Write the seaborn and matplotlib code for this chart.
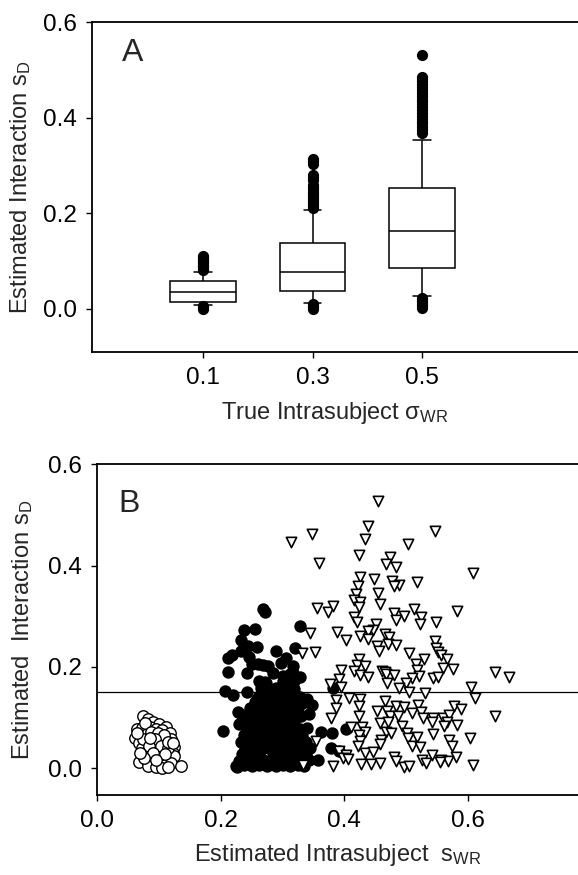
import numpy as np
import pandas as pd
import matplotlib
matplotlib.use("Agg")
import matplotlib.pyplot as plt
import seaborn as sns

# ---------------- Panel A data: box summaries (whisker low, Q1, median, Q3, whisker high)
sigma_levels = [0.1, 0.3, 0.5]
box_s01 = [0.008, 0.015, 0.035, 0.059, 0.077]
box_s03 = [0.013, 0.038, 0.077, 0.139, 0.208]
box_s05 = [0.027, 0.085, 0.164, 0.254, 0.353]

out_s01 = [0.001, 0.004, 0.006, 0.081, 0.084, 0.087, 0.090, 0.093, 0.096, 0.099,
           0.102, 0.105, 0.108, 0.111]
out_s03 = [0.001, 0.004, 0.007, 0.010, 0.212, 0.216, 0.220, 0.224, 0.228, 0.232,
           0.236, 0.240, 0.245, 0.250, 0.255, 0.259, 0.270, 0.275, 0.280, 0.303,
           0.309, 0.314]
out_s05 = [0.002, 0.006, 0.010, 0.014, 0.018, 0.022, 0.368, 0.374, 0.380, 0.386,
           0.392, 0.398, 0.404, 0.410, 0.416, 0.422, 0.428, 0.434, 0.440, 0.446,
           0.452, 0.458, 0.464, 0.470, 0.476, 0.482, 0.486, 0.531]

# ---------------- Panel B data
open_circ_x = [0.075, 0.082, 0.090, 0.100, 0.112, 0.065, 0.072, 0.085, 0.095, 0.105,
               0.118, 0.062, 0.070, 0.080, 0.090, 0.100, 0.110, 0.120, 0.068, 0.078,
               0.088, 0.098, 0.108, 0.118, 0.125, 0.072, 0.082, 0.092, 0.102, 0.112,
               0.122, 0.075, 0.085, 0.095, 0.105, 0.115, 0.125, 0.068, 0.080, 0.090,
               0.100, 0.110, 0.120, 0.135, 0.082, 0.095, 0.105, 0.115, 0.078, 0.088,
               0.098, 0.108, 0.074, 0.094, 0.084, 0.104, 0.114, 0.090, 0.110, 0.076,
               0.096, 0.064, 0.115, 0.122, 0.086, 0.070]
open_circ_y = [0.104, 0.098, 0.092, 0.088, 0.082, 0.078, 0.080, 0.082, 0.078, 0.075,
               0.070, 0.060, 0.066, 0.068, 0.064, 0.062, 0.060, 0.058, 0.050, 0.054,
               0.050, 0.052, 0.048, 0.046, 0.042, 0.040, 0.036, 0.040, 0.038, 0.034,
               0.030, 0.028, 0.024, 0.026, 0.022, 0.020, 0.024, 0.012, 0.014, 0.010,
               0.008, 0.006, 0.010, 0.004, 0.004, 0.002, 0.001, 0.003, 0.090, 0.072,
               0.070, 0.066, 0.058, 0.058, 0.044, 0.044, 0.040, 0.030, 0.028, 0.020,
               0.016, 0.070, 0.052, 0.050, 0.060, 0.030]

fill_circ_x = [0.269, 0.271, 0.328, 0.238, 0.256, 0.232, 0.244, 0.258, 0.233, 0.211,
               0.219, 0.246, 0.290, 0.320, 0.251, 0.261, 0.269, 0.277, 0.306, 0.298,
               0.317, 0.212, 0.243, 0.284, 0.301, 0.312, 0.317, 0.328, 0.264, 0.274,
               0.269, 0.207, 0.220, 0.243, 0.381, 0.258, 0.281, 0.296, 0.315, 0.339,
               0.347, 0.331, 0.203, 0.228, 0.230, 0.242, 0.363, 0.380, 0.403, 0.378,
               0.392, 0.358, 0.226,
               0.225, 0.238, 0.250, 0.262, 0.275, 0.290, 0.300, 0.312, 0.325, 0.335,
               0.230, 0.245, 0.255, 0.268, 0.280, 0.295, 0.305, 0.318, 0.330, 0.342,
               0.235, 0.250, 0.262, 0.285, 0.298, 0.310, 0.322, 0.338,
               0.240, 0.255, 0.270, 0.282, 0.292, 0.305, 0.315, 0.328, 0.345,
               0.232, 0.245, 0.260, 0.275, 0.288, 0.300, 0.312, 0.325, 0.338,
               0.238, 0.252, 0.268, 0.280, 0.295, 0.308, 0.320, 0.332,
               0.245, 0.258, 0.272, 0.285, 0.300, 0.312, 0.328, 0.340,
               0.240, 0.255, 0.265, 0.278, 0.292, 0.305, 0.318,
               0.235, 0.250, 0.262, 0.275, 0.290, 0.300, 0.315, 0.330, 0.342,
               0.248, 0.260, 0.272, 0.285, 0.296, 0.310, 0.325,
               0.255, 0.268, 0.280, 0.295, 0.305, 0.322, 0.335,
               0.262, 0.275, 0.288, 0.300, 0.315, 0.328,
               0.265, 0.278, 0.290, 0.305, 0.318,
               0.262, 0.272, 0.300, 0.318]
fill_circ_y = [0.314, 0.309, 0.280, 0.272, 0.275, 0.253, 0.241, 0.240, 0.232, 0.217,
               0.224, 0.219, 0.232, 0.238, 0.205, 0.206, 0.204, 0.202, 0.217, 0.208,
               0.202, 0.189, 0.188, 0.188, 0.182, 0.186, 0.188, 0.180, 0.171, 0.168,
               0.161, 0.153, 0.145, 0.151, 0.159, 0.137, 0.148, 0.141, 0.145, 0.136,
               0.125, 0.128, 0.074, 0.110, 0.088, 0.074, 0.072, 0.070, 0.077, 0.039,
               0.034, 0.016, 0.003,
               0.005, 0.006, 0.004, 0.007, 0.005, 0.004, 0.006, 0.005, 0.007, 0.004,
               0.015, 0.016, 0.014, 0.016, 0.015, 0.017, 0.014, 0.016, 0.015, 0.017,
               0.028, 0.027, 0.029, 0.028, 0.027, 0.029, 0.028, 0.027,
               0.040, 0.041, 0.039, 0.040, 0.042, 0.040, 0.039, 0.041, 0.040,
               0.052, 0.053, 0.051, 0.052, 0.054, 0.052, 0.051, 0.053, 0.052,
               0.065, 0.064, 0.066, 0.065, 0.064, 0.066, 0.065, 0.064,
               0.078, 0.079, 0.077, 0.078, 0.079, 0.077, 0.078, 0.079,
               0.092, 0.091, 0.093, 0.092, 0.091, 0.093, 0.092,
               0.105, 0.104, 0.106, 0.105, 0.104, 0.106, 0.105, 0.104, 0.106,
               0.118, 0.117, 0.119, 0.118, 0.117, 0.119, 0.118,
               0.130, 0.131, 0.129, 0.130, 0.131, 0.129, 0.130,
               0.142, 0.143, 0.141, 0.142, 0.143, 0.141,
               0.158, 0.157, 0.159, 0.158, 0.157,
               0.172, 0.171, 0.173, 0.172]

tri_x = [0.455, 0.439, 0.434, 0.546, 0.347, 0.314, 0.503, 0.359, 0.423, 0.474,
         0.468, 0.483, 0.608, 0.426, 0.448, 0.477, 0.489, 0.481, 0.517, 0.422,
         0.454, 0.419, 0.415, 0.425, 0.458, 0.424, 0.355, 0.374, 0.381, 0.512,
         0.583, 0.480, 0.496, 0.415, 0.524, 0.484, 0.421, 0.523, 0.549, 0.451,
         0.446, 0.438, 0.388, 0.345, 0.425, 0.466, 0.472, 0.403, 0.438, 0.547,
         0.470, 0.483, 0.453, 0.549, 0.456, 0.332, 0.352, 0.505, 0.551, 0.556,
         0.529, 0.566, 0.424, 0.420, 0.516, 0.434, 0.576, 0.559, 0.394, 0.415,
         0.461, 0.466, 0.517, 0.644, 0.667, 0.426, 0.439, 0.468, 0.480, 0.520,
         0.543, 0.552, 0.391, 0.509, 0.469, 0.500, 0.376, 0.488, 0.394, 0.605,
         0.505, 0.530, 0.611, 0.386, 0.407, 0.426, 0.466, 0.423, 0.519, 0.484,
         0.387, 0.497, 0.578, 0.589, 0.453, 0.469, 0.509, 0.524, 0.424, 0.474,
         0.486, 0.644, 0.378, 0.527, 0.543, 0.559, 0.570, 0.457, 0.470, 0.542,
         0.566, 0.494, 0.582, 0.429, 0.410, 0.434, 0.467, 0.561, 0.476, 0.501,
         0.424, 0.543, 0.518, 0.604, 0.460, 0.503, 0.425, 0.569, 0.354, 0.457,
         0.422, 0.574, 0.510, 0.522, 0.391, 0.434, 0.447, 0.403, 0.541, 0.398,
         0.480, 0.406, 0.484, 0.580, 0.526, 0.556, 0.568, 0.532, 0.333, 0.381,
         0.427, 0.443, 0.458, 0.496, 0.505, 0.608, 0.554]
tri_y = [0.528, 0.478, 0.453, 0.468, 0.462, 0.446, 0.442, 0.405, 0.421, 0.416,
         0.403, 0.397, 0.386, 0.378, 0.373, 0.370, 0.361, 0.359, 0.367, 0.359,
         0.345, 0.343, 0.332, 0.328, 0.324, 0.319, 0.317, 0.309, 0.320, 0.314,
         0.311, 0.307, 0.301, 0.298, 0.298, 0.293, 0.289, 0.285, 0.288, 0.285,
         0.273, 0.270, 0.268, 0.266, 0.260, 0.264, 0.259, 0.253, 0.255, 0.251,
         0.245, 0.243, 0.241, 0.238, 0.232, 0.228, 0.230, 0.228, 0.229, 0.223,
         0.215, 0.215, 0.215, 0.204, 0.205, 0.202, 0.195, 0.197, 0.194, 0.191,
         0.192, 0.189, 0.193, 0.189, 0.181, 0.184, 0.180, 0.186, 0.184, 0.182,
         0.178, 0.180, 0.176, 0.179, 0.168, 0.169, 0.166, 0.159, 0.161, 0.161,
         0.151, 0.148, 0.138, 0.135, 0.138, 0.136, 0.132, 0.123, 0.125, 0.123,
         0.118, 0.120, 0.122, 0.116, 0.113, 0.112, 0.109, 0.111, 0.104, 0.103,
         0.104, 0.103, 0.099, 0.100, 0.100, 0.100, 0.105, 0.090, 0.092, 0.092,
         0.092, 0.084, 0.086, 0.082, 0.082, 0.072, 0.072, 0.084, 0.070, 0.070,
         0.066, 0.068, 0.062, 0.059, 0.056, 0.059, 0.053, 0.055, 0.054, 0.047,
         0.043, 0.044, 0.043, 0.041, 0.033, 0.030, 0.031, 0.026, 0.026, 0.021,
         0.022, 0.018, 0.015, 0.022, 0.016, 0.016, 0.014, 0.010, 0.007, 0.005,
         0.009, 0.009, 0.010, 0.003, 0.005, 0.007, 0.013]

ref_line_y = 0.15

# ---------------- style
sns.set_style("ticks")
plt.rcParams["font.family"] = ["Liberation Sans", "DejaVu Sans"]
plt.rcParams["mathtext.fontset"] = "custom"
plt.rcParams["mathtext.rm"] = "Liberation Sans"
plt.rcParams["mathtext.it"] = "Liberation Sans"
plt.rcParams["mathtext.default"] = "regular"

fig = plt.figure(figsize=(5.78, 8.75), dpi=100)
axA = fig.add_axes([0.159, 0.5977, 0.841, 0.377])
axB = fig.add_axes([0.168, 0.0914, 0.832, 0.378])

TICK_FS = 17.5
LAB_FS = 17

# ---------------- Panel A
box_df = pd.DataFrame({
    "sigma": np.repeat(sigma_levels, 5),
    "value": box_s01 + box_s03 + box_s05,
})
sns.boxplot(data=box_df, x="sigma", y="value", native_scale=True, whis=(0, 100),
            width=0.6, color="white", linecolor="black", linewidth=1.1,
            capwidths=0.032, ax=axA)
out_df = pd.DataFrame({
    "sigma": [0.1] * len(out_s01) + [0.3] * len(out_s03) + [0.5] * len(out_s05),
    "value": out_s01 + out_s03 + out_s05,
})
sns.scatterplot(data=out_df, x="sigma", y="value", color="black", s=65,
                linewidth=0, ax=axA, zorder=3)
axA.set_xlim(-0.103, 0.785)
axA.set_ylim(-0.09, 0.6)
axA.set_xticks(sigma_levels)
axA.set_xticklabels(["0.1", "0.3", "0.5"])
axA.set_yticks([0.0, 0.2, 0.4, 0.6])
axA.set_yticklabels(["0.0", "0.2", "0.4", "0.6"])
axA.set_xlabel(r"True Intrasubject $\sigma_{WR}$", fontsize=LAB_FS, labelpad=8)
axA.set_ylabel(r"Estimated Interaction s$_{D}$", fontsize=LAB_FS, labelpad=7)
axA.text(0.062, 0.905, "A", transform=axA.transAxes, fontsize=23,
         ha="left", va="center")

# ---------------- Panel B
sns.scatterplot(x=open_circ_x, y=open_circ_y, marker="o", color="white",
                edgecolor="black", linewidth=1.0, s=68, ax=axB, zorder=3)
sns.scatterplot(x=fill_circ_x, y=fill_circ_y, marker="o", color="black",
                edgecolor="black", linewidth=0, s=80, ax=axB, zorder=3)
sns.scatterplot(x=tri_x, y=tri_y, marker="v", color="white",
                edgecolor="black", linewidth=1.2, s=55, ax=axB, zorder=4)
axB.axhline(ref_line_y, color="black", linewidth=0.9, zorder=2)
axB.set_xlim(0.0, 0.778)
axB.set_ylim(-0.053, 0.6)
axB.set_xticks([0.0, 0.2, 0.4, 0.6])
axB.set_xticklabels(["0.0", "0.2", "0.4", "0.6"])
axB.set_yticks([0.0, 0.2, 0.4, 0.6])
axB.set_yticklabels(["0.0", "0.2", "0.4", "0.6"])
axB.set_xlabel(r"Estimated Intrasubject  s$_{WR}$", fontsize=LAB_FS, labelpad=7)
axB.set_ylabel(r"Estimated  Interaction s$_{D}$", fontsize=LAB_FS, labelpad=9)
axB.text(0.044, 0.879, "B", transform=axB.transAxes, fontsize=23,
         ha="left", va="center")

for ax in (axA, axB):
    ax.spines["right"].set_visible(False)
    for side in ("left", "top", "bottom"):
        ax.spines[side].set_linewidth(1.3)
        ax.spines[side].set_color("black")
    ax.tick_params(direction="out", length=4, width=1, labelsize=TICK_FS,
                   pad=7, colors="black")

fig.savefig("out.png", dpi=100, facecolor="white")
